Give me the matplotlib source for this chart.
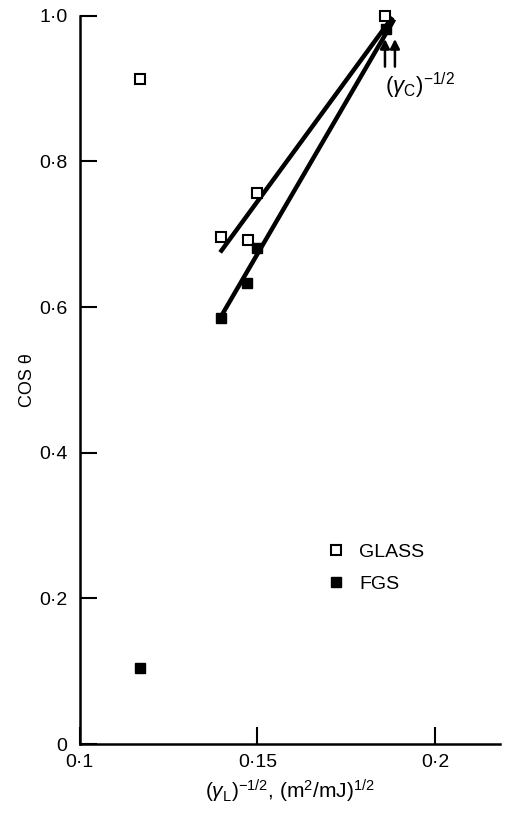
import numpy as np
import matplotlib
matplotlib.use('Agg')
import matplotlib.pyplot as plt

plt.rcParams['font.family'] = ['Liberation Sans', 'DejaVu Sans']
plt.rcParams['mathtext.fontset'] = 'custom'
plt.rcParams['mathtext.rm'] = 'Liberation Sans'
plt.rcParams['mathtext.it'] = 'Liberation Sans:italic'

# --- Data ---
glass_x = [0.117, 0.1397, 0.1473, 0.1499, 0.1859]
glass_y = [0.913, 0.696, 0.692, 0.757, 1.000]
fgs_x = [0.117, 0.1397, 0.147, 0.1499, 0.1862]
fgs_y = [0.104, 0.585, 0.633, 0.681, 0.981]

# fitted lines (end points)
glass_fit_x = [0.1395, 0.1880]
glass_fit_y = [0.675, 0.998]
fgs_fit_x = [0.1395, 0.1885]
fgs_fit_y = [0.585, 0.995]

# critical values marked by arrows
gc_x = [0.1859, 0.1887]

xticks = [0.1, 0.15, 0.2]
xtick_labels = ['0·1', '0·15', '0·2']
yticks = [0, 0.2, 0.4, 0.6, 0.8, 1.0]
ytick_labels = ['0', '0·2', '0·4', '0·6', '0·8', '1·0']

# --- Plot ---
fig = plt.figure(figsize=(5.15, 8.24), dpi=100)
ax = fig.add_axes([0.155, 0.097, 0.816, 0.884])

ax.plot(glass_fit_x, glass_fit_y, 'k-', lw=3.2, solid_capstyle='butt')
ax.plot(fgs_fit_x, fgs_fit_y, 'k-', lw=3.2, solid_capstyle='butt')

ax.plot(glass_x, glass_y, 's', ms=7, mfc='white', mec='k', mew=1.5,
        ls='none', clip_on=False, label='GLASS', zorder=3)
ax.plot(fgs_x, fgs_y, 's', ms=7.5, mfc='k', mec='k',
        ls='none', clip_on=False, label='FGS', zorder=3)

for xa in gc_x:
    ax.annotate('', xy=(xa, 0.968), xytext=(xa, 0.930),
                arrowprops=dict(arrowstyle='-|>', color='k', lw=1.8,
                                mutation_scale=14, shrinkA=0, shrinkB=0))

ax.text(0.1958, 0.903, r'$(\gamma_{\rm C})^{-1/2}$', fontsize=16,
        ha='center', va='center')

ax.set_xlim(0.1, 0.2183)
ax.set_ylim(0, 1.0)
ax.set_xticks(xticks)
ax.set_xticklabels(xtick_labels)
ax.set_yticks(yticks)
ax.set_yticklabels(ytick_labels)
ax.tick_params(direction='in', length=12, width=1.5, labelsize=14)
ax.tick_params(axis='y', pad=9)
ax.tick_params(axis='x', pad=7)

for s in ['top', 'right']:
    ax.spines[s].set_visible(False)
for s in ['left', 'bottom']:
    ax.spines[s].set_linewidth(1.8)

ax.set_ylabel('COS θ', fontsize=13, labelpad=2)
ax.set_xlabel(r'$(\gamma_{\rm L})^{-1/2}$, (m$^2$/mJ)$^{1/2}$',
              fontsize=15, labelpad=5)

ax.legend(loc='upper left', bbox_to_anchor=(0.545, 0.30), frameon=False,
          fontsize=14, handletextpad=0.7, labelspacing=0.75,
          handlelength=1.0)

fig.savefig('out.png', dpi=100)
